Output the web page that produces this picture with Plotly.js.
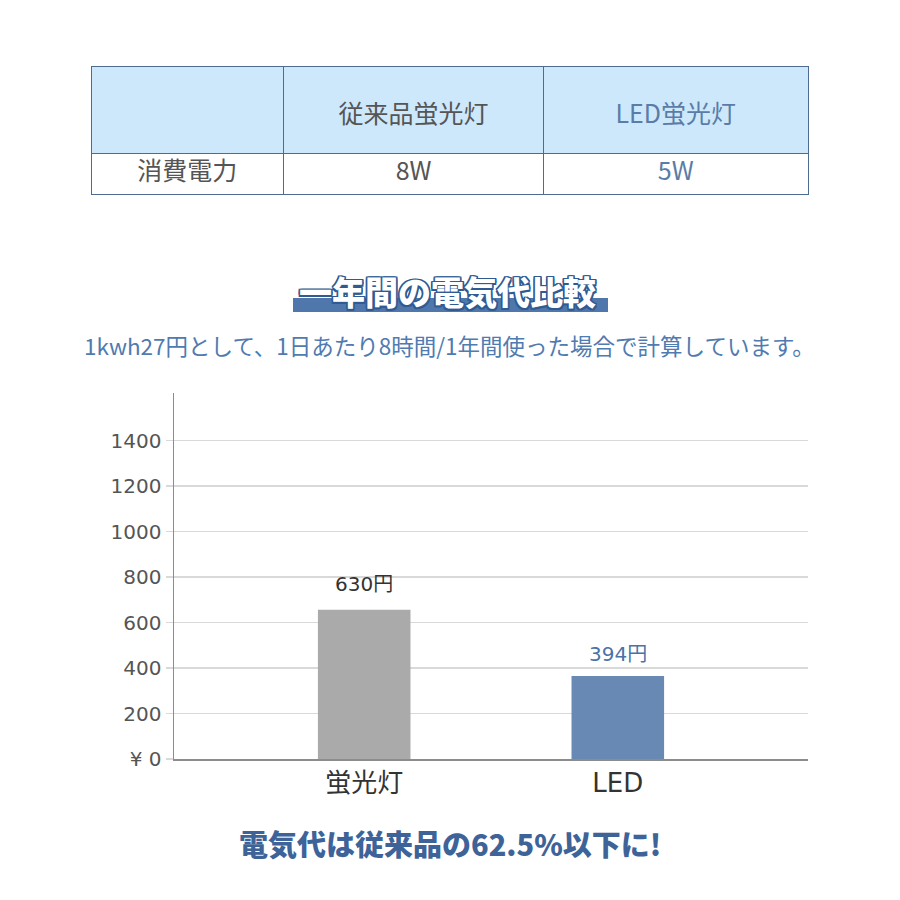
<!DOCTYPE html>
<html>
<head>
<meta charset="utf-8">
<script src="https://cdn.plot.ly/plotly-3.0.1.min.js"></script>
<style>html,body{margin:0;padding:0;background:#fff;}#chart{width:900px;height:900px;}</style>
</head>
<body>
<div id="chart"></div>
<script>
// ---- data ----
var categories = ["蛍光灯", "LED"];
var costValues = [656, 365];
var costLabels = ["630円", "394円"];
var yTickVals = [0, 200, 400, 600, 800, 1000, 1200, 1400];
var yTickText = ["¥ 0", "200", "400", "600", "800", "1000", "1200", "1400"];
var tableHeader = ["", "従来品蛍光灯", "LED蛍光灯"];
var tableRowLabel = ["消費電力"];
var tableConventional = ["8W"];
var tableLED = ["5W"];
var chartTitle = "一年間の電気代比較";
var chartSubtitle = "1kwh27円として、1日あたり8時間/1年間使った場合で計算しています。";
var conclusion = "電気代は従来品の62.5%以下に!";

var W = 900, H = 900;
function px(x) { return x / W; }
function py(y) { return 1 - y / H; }

var barColors = ["#aaaaaa", "#6889b3"];
var labelColors = ["#333333", "#4a72a8"];
var labelShift = [12, 8];

var bars = {
  type: "bar",
  x: categories,
  y: costValues,
  width: 0.365,
  marker: { color: barColors },
  hoverinfo: "skip",
  xaxis: "x", yaxis: "y"
};

var tableFont = { family: "Noto Sans CJK JP", size: 25, color: ["#555555", "#555555", "#5a7ca6"] };
var table = {
  type: "table",
  domain: { x: [px(91), px(809)], y: [py(198), py(66)] },
  columnwidth: [193, 260, 265],
  header: {
    values: tableHeader.map(function (v) { return "<span style='font-size:14px'>\u00A0</span><br>" + v; }),
    height: 87,
    fill: { color: "#cde8fb" },
    line: { color: "#4d6c8f", width: 1 },
    align: "center",
    font: tableFont
  },
  cells: {
    values: [tableRowLabel, tableConventional, tableLED],
    height: 41,
    fill: { color: "#ffffff" },
    line: { color: "#4d6c8f", width: 1 },
    align: "center",
    font: tableFont
  }
};

var annotations = [];
for (var i = 0; i < categories.length; i++) {
  annotations.push({
    x: categories[i], y: costValues[i], xref: "x", yref: "y",
    text: costLabels[i], showarrow: false, yanchor: "bottom", yshift: labelShift[i],
    font: { family: "DejaVu Sans, Noto Sans CJK JP", size: 20, color: labelColors[i] }
  });
}
var oc = "#2f5a92";
annotations.push({
  x: px(447), y: py(291), xref: "paper", yref: "paper",
  text: chartTitle, showarrow: false, xanchor: "center", yanchor: "middle",
  font: { family: "Noto Sans CJK JP", size: 33, weight: 900, color: "#ffffff",
    shadow: "1.5px 0 0 " + oc + ", -1.5px 0 0 " + oc + ", 0 1.5px 0 " + oc + ", 0 -1.5px 0 " + oc +
            ", 1.5px 1.5px 0 " + oc + ", -1.5px -1.5px 0 " + oc + ", 1.5px -1.5px 0 " + oc + ", -1.5px 1.5px 0 " + oc }
});
annotations.push({
  x: px(449), y: py(345), xref: "paper", yref: "paper",
  text: chartSubtitle, showarrow: false, xanchor: "center", yanchor: "middle",
  font: { family: "Noto Sans CJK JP", size: 22.5, color: "#4f7bb0" }
});
annotations.push({
  x: px(450), y: py(843), xref: "paper", yref: "paper",
  text: conclusion, showarrow: false, xanchor: "center", yanchor: "middle",
  font: { family: "Noto Sans CJK JP", size: 29, weight: 900, color: "#3d6399" }
});

var layout = {
  width: W, height: H,
  margin: { l: 0, r: 0, t: 0, b: 0 },
  paper_bgcolor: "#ffffff", plot_bgcolor: "#ffffff",
  showlegend: false,
  xaxis: {
    domain: [px(174), px(808)],
    range: [-0.75, 1.75],
    showline: true, linecolor: "#8c8c8c", linewidth: 1.5,
    showgrid: false, zeroline: false, ticks: "",
    tickfont: { family: "DejaVu Sans, Noto Sans CJK JP", size: 26, color: "#333333" },
    fixedrange: true
  },
  yaxis: {
    domain: [py(759), py(393)],
    range: [0, 1610],
    tickvals: yTickVals, ticktext: yTickText,
    showline: true, linecolor: "#8c8c8c", linewidth: 1.5,
    showgrid: true, gridcolor: "#d9d9d9", gridwidth: 1.5,
    zeroline: false,
    ticks: "outside", ticklen: 7, tickcolor: "#d9d9d9", tickwidth: 1.5,
    tickfont: { family: "DejaVu Sans, Verdana", size: 20, color: "#555555" },
    fixedrange: true
  },
  shapes: [{
    type: "rect", xref: "paper", yref: "paper",
    x0: px(293), x1: px(608), y0: py(312), y1: py(298),
    fillcolor: "#4f77ab", line: { width: 0 }, layer: "below"
  }],
  annotations: annotations
};

Plotly.newPlot("chart", [bars, table], layout, { displayModeBar: false, staticPlot: true });
</script>
</body>
</html>
